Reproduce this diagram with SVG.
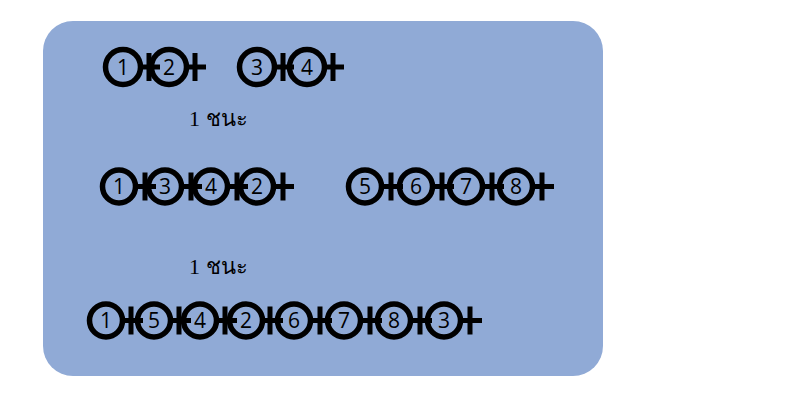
<svg xmlns="http://www.w3.org/2000/svg" width="800" height="400" viewBox="0 0 800 400">
<style>
.bg{fill:#90AAD6}
.n circle{fill:none;stroke:#000;stroke-width:5.5}
.n text{font-family:"Open Sans","Liberation Sans",Arial,sans-serif;font-size:21px;text-anchor:middle;fill:#000}
.k path{fill:none;stroke:#000;stroke-width:5}
.lbl{font-family:"Liberation Serif","Noto Sans",serif;font-size:22px;font-weight:normal;fill:#000}
</style>
<rect class="bg" x="43" y="21" width="560" height="355" rx="30" ry="30"/>
<g id="row1">
<g id="r1n1" class="n"><circle cx="123" cy="67" r="17.5"/><text x="123" y="74.5">1</text></g>
<g id="r1n2" class="n"><circle cx="169" cy="67" r="17.5"/><text x="169" y="74.5">2</text></g>
<g id="r1n3" class="n"><circle cx="257" cy="67" r="17.5"/><text x="257" y="74.5">3</text></g>
<g id="r1n4" class="n"><circle cx="307" cy="67" r="17.5"/><text x="307" y="74.5">4</text></g>
</g>
<g id="row2">
<g id="r2n1" class="n"><circle cx="119" cy="186.5" r="16.5"/><text x="119" y="194">1</text></g>
<g id="r2n3" class="n"><circle cx="165" cy="186.5" r="16.5"/><text x="165" y="194">3</text></g>
<g id="r2n4" class="n"><circle cx="211" cy="186.5" r="16.5"/><text x="211" y="194">4</text></g>
<g id="r2n2" class="n"><circle cx="257" cy="186.5" r="16.5"/><text x="257" y="194">2</text></g>
<g id="r2n5" class="n"><circle cx="365" cy="186.5" r="16.5"/><text x="365" y="194">5</text></g>
<g id="r2n6" class="n"><circle cx="416" cy="186.5" r="16.5"/><text x="416" y="194">6</text></g>
<g id="r2n7" class="n"><circle cx="466" cy="186.5" r="16.5"/><text x="466" y="194">7</text></g>
<g id="r2n8" class="n"><circle cx="516" cy="186.5" r="16.5"/><text x="516" y="194">8</text></g>
</g>
<g id="row3">
<g id="r3n1" class="n"><circle cx="106" cy="320.5" r="16.5"/><text x="106" y="328">1</text></g>
<g id="r3n5" class="n"><circle cx="154" cy="320.5" r="16.5"/><text x="154" y="328">5</text></g>
<g id="r3n4" class="n"><circle cx="200" cy="320.5" r="16.5"/><text x="200" y="328">4</text></g>
<g id="r3n2" class="n"><circle cx="246" cy="320.5" r="16.5"/><text x="246" y="328">2</text></g>
<g id="r3n6" class="n"><circle cx="294" cy="320.5" r="16.5"/><text x="294" y="328">6</text></g>
<g id="r3n7" class="n"><circle cx="344" cy="320.5" r="16.5"/><text x="344" y="328">7</text></g>
<g id="r3n8" class="n"><circle cx="394" cy="320.5" r="16.5"/><text x="394" y="328">8</text></g>
<g id="r3n3" class="n"><circle cx="444" cy="320.5" r="16.5"/><text x="444" y="328">3</text></g>
</g>
<g id="connectors" class="k">
<path d="M142 67H160M149 53V81"/>
<path d="M188 67H206M195 53V81"/>
<path d="M276 67H294M283 53V81"/>
<path d="M326 67H344M333 53V81"/>
<path d="M137 186.5H156M145 172.5V200.5"/>
<path d="M183 186.5H202M191 172.5V200.5"/>
<path d="M229 186.5H248M237 172.5V200.5"/>
<path d="M275 186.5H294M283 172.5V200.5"/>
<path d="M383 186.5H403M391 172.5V200.5"/>
<path d="M434 186.5H454M442 172.5V200.5"/>
<path d="M484 186.5H504M492 172.5V200.5"/>
<path d="M534 186.5H554M542 172.5V200.5"/>
<path d="M124 320.5H143M131 306.5V334.5"/>
<path d="M172 320.5H191M179 306.5V334.5"/>
<path d="M218 320.5H237M225 306.5V334.5"/>
<path d="M264 320.5H283M270 306.5V334.5"/>
<path d="M312 320.5H332M320 306.5V334.5"/>
<path d="M362 320.5H382M370 306.5V334.5"/>
<path d="M412 320.5H432M420 306.5V334.5"/>
<path d="M462 320.5H482M470 306.5V334.5"/>
</g>
<text class="lbl" x="189" y="126">1 ชนะ</text>
<text class="lbl" x="189" y="274">1 ชนะ</text>
</svg>
